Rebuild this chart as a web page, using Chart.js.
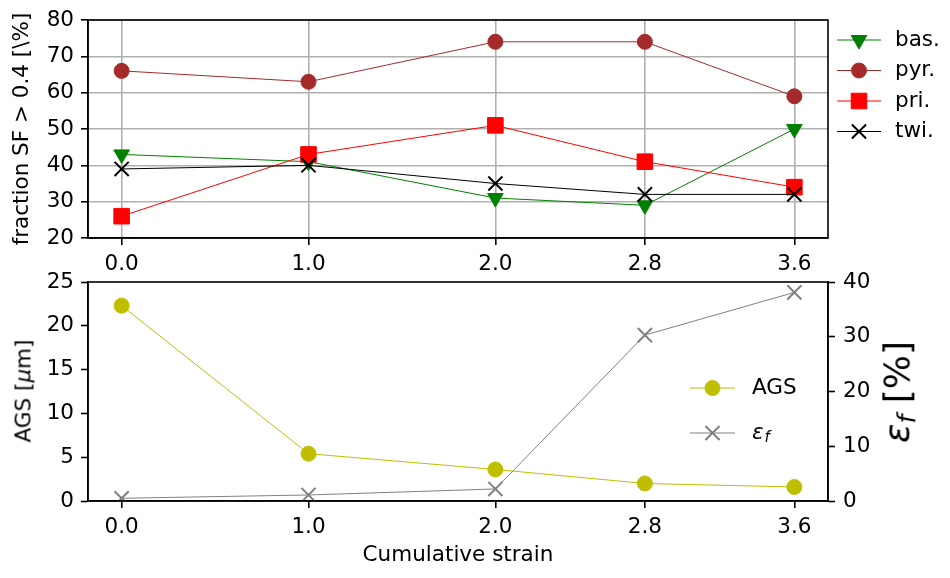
<!DOCTYPE html>
<html>
<head>
<meta charset="utf-8">
<script src="https://cdn.jsdelivr.net/npm/chart.js@4.4.1/dist/chart.umd.min.js"></script>
<style>
    html, body { margin: 0; padding: 0; background: #fff; }
    #wrap { position: relative; width: 950px; height: 578px; overflow: hidden; font-family: "DejaVu Sans"; }
    #topChart { position: absolute; left: 0; top: 0; }
    #botChart { position: absolute; left: 0; top: 260px; }
    .vlabel { position: absolute; white-space: nowrap; color: #000; transform: translate(-50%, -50%) rotate(-90deg); }
    #agsLabel { left: 23px; top: 391px; font-size: 21.5px; }
    #efLabel { left: 899px; top: 392px; font-size: 36px; }
    .vlabel i { font-style: italic; }
    .vlabel sub { font-size: 70%; vertical-align: -0.25em; }
</style>
</head>
<body>
<div id="wrap">
    <canvas id="topChart" width="950" height="290"></canvas>
    <canvas id="botChart" width="950" height="318"></canvas>
    <div class="vlabel" id="agsLabel">AGS [<i>μ</i>m]</div>
    <div class="vlabel" id="efLabel"><i>ε</i><sub><i>f</i></sub> [%]</div>
</div>
<script>
// data
const strain = [0.0, 1.0, 2.0, 2.8, 3.6];
const xTicks = [0.0, 1.0, 2.0, 2.8, 3.6];
const basal = [43, 41, 31, 29, 50];
const pyramidal = [66, 63, 74, 74, 59];
const prismatic = [26, 43, 51, 41, 34];
const twinning = [39, 40, 35, 32, 32];
const ags = [22.3, 5.4, 3.6, 2.0, 1.6];
const epsF = [0.5, 1.1, 2.2, 30.3, 38.1];

const FS = 21.5;
Chart.defaults.color = "#000";
Chart.defaults.font.family = "DejaVu Sans";
Chart.defaults.font.size = FS;

const toXY = (ys) => strain.map((x, i) => ({ x: x, y: ys[i] }));

// matplotlib style box around the axes
const framePlugin = {
    id: "frame",
    afterDatasetsDraw(chart) {
        const { ctx, chartArea: a } = chart;
        ctx.save();
        ctx.strokeStyle = "#000";
        ctx.lineWidth = 1.6;
        ctx.strokeRect(a.left, a.top, a.right - a.left, a.bottom - a.top);
        ctx.restore();
    },
};

// legend with line + marker handles
const lineLegendPlugin = {
    id: "lineLegend",
    afterDraw(chart, args, opts) {
        const ctx = chart.ctx;
        chart.data.datasets.forEach((ds, i) => {
            const y = opts.y + i * opts.rowHeight;
            ctx.save();
            ctx.strokeStyle = ds.borderColor;
            ctx.lineWidth = ds.borderWidth;
            ctx.beginPath();
            ctx.moveTo(opts.x, y);
            ctx.lineTo(opts.x + opts.handle, y);
            ctx.stroke();
            ctx.fillStyle = ds.pointBackgroundColor;
            ctx.strokeStyle = ds.pointBorderColor;
            ctx.lineWidth = ds.pointBorderWidth;
            Chart.helpers.drawPoint(ctx, {
                pointStyle: ds.pointStyle,
                radius: ds.pointRadius,
                rotation: ds.pointRotation || 0,
                borderWidth: ds.pointBorderWidth,
            }, opts.x + opts.handle / 2, y);
            ctx.fillStyle = "#000";
            ctx.textBaseline = "middle";
            ctx.textAlign = "left";
            const tx = opts.x + opts.handle + opts.gap;
            if (ds.label.indexOf("_") >= 0) {
                const parts = ds.label.split("_");
                ctx.font = "italic " + FS + "px 'DejaVu Sans'";
                ctx.fillText(parts[0], tx, y);
                const w = ctx.measureText(parts[0]).width;
                ctx.font = "italic " + (FS * 0.7) + "px 'DejaVu Sans'";
                ctx.fillText(parts[1], tx + w + 1, y + 5);
            } else {
                ctx.font = FS + "px 'DejaVu Sans'";
                ctx.fillText(ds.label, tx, y);
            }
            ctx.restore();
        });
    },
};

const xScale = (height, withTitle) => ({
    type: "linear",
    min: -0.18,
    max: 3.78,
    afterBuildTicks: (s) => { s.ticks = xTicks.map((v) => ({ value: v })); },
    afterFit: (s) => { s.height = height; },
    ticks: { callback: (v) => Number(v).toFixed(1), padding: 7, maxRotation: 0, autoSkip: false },
    grid: { display: true, drawOnChartArea: !withTitle, color: "#b0b0b0", lineWidth: 1.6, tickColor: "#000", tickLength: 7, tickWidth: 1.6 },
    border: { color: "#000", width: 1.6 },
    title: { display: withTitle, text: "Cumulative strain", padding: { top: 0, bottom: 10 } },
});

new Chart(document.getElementById("topChart"), {
    type: "line",
    data: {
        datasets: [
            {
                label: "bas.", data: toXY(basal), order: 3,
                borderColor: "#008000", borderWidth: 1,
                pointStyle: "triangle", pointRotation: 180, pointRadius: 9,
                pointBackgroundColor: "#008000", pointBorderColor: "#008000", pointBorderWidth: 1,
            },
            {
                label: "pyr.", data: toXY(pyramidal), order: 2,
                borderColor: "#a52a2a", borderWidth: 1,
                pointStyle: "circle", pointRadius: 7.5,
                pointBackgroundColor: "#a52a2a", pointBorderColor: "#a52a2a", pointBorderWidth: 1,
            },
            {
                label: "pri.", data: toXY(prismatic), order: 1,
                borderColor: "#ff0000", borderWidth: 1,
                pointStyle: "rect", pointRadius: 11,
                pointBackgroundColor: "#ff0000", pointBorderColor: "#ff0000", pointBorderWidth: 1,
            },
            {
                label: "twi.", data: toXY(twinning), order: 0,
                borderColor: "#000000", borderWidth: 1,
                pointStyle: "crossRot", pointRadius: 10,
                pointBackgroundColor: "#000000", pointBorderColor: "#000000", pointBorderWidth: 2,
            },
        ],
    },
    options: {
        responsive: false,
        animation: false,
        layout: { padding: { top: 20, right: 122, left: 0, bottom: 0 } },
        plugins: {
            legend: { display: false },
            tooltip: { enabled: false },
            lineLegend: { x: 837, y: 40, rowHeight: 30.5, handle: 44, gap: 14 },
        },
        scales: {
            x: xScale(52, false),
            y: {
                min: 20, max: 80,
                afterFit: (s) => { s.width = 88; },
                ticks: { stepSize: 10, padding: 7 },
                grid: { color: "#b0b0b0", lineWidth: 1.6, tickColor: "#000", tickLength: 7, tickWidth: 1.6 },
                border: { color: "#000", width: 1.6 },
                title: { display: true, text: "fraction SF > 0.4 [\\%]", padding: { top: 10, bottom: 0 } },
            },
        },
    },
    plugins: [framePlugin, lineLegendPlugin],
});

new Chart(document.getElementById("botChart"), {
    type: "line",
    data: {
        datasets: [
            {
                label: "AGS", data: toXY(ags), yAxisID: "y", order: 1,
                borderColor: "#bfbf00", borderWidth: 1,
                pointStyle: "circle", pointRadius: 7.5,
                pointBackgroundColor: "#bfbf00", pointBorderColor: "#bfbf00", pointBorderWidth: 1,
            },
            {
                label: "ε_f", data: toXY(epsF), yAxisID: "y1", order: 0,
                borderColor: "#808080", borderWidth: 1,
                pointStyle: "crossRot", pointRadius: 10,
                pointBackgroundColor: "#808080", pointBorderColor: "#808080", pointBorderWidth: 2,
            },
        ],
    },
    options: {
        responsive: false,
        animation: false,
        layout: { padding: { top: 22, right: 0, left: 0, bottom: 0 } },
        plugins: {
            legend: { display: false },
            tooltip: { enabled: false },
            lineLegend: { x: 690, y: 128, rowHeight: 45, handle: 45, gap: 17 },
        },
        scales: {
            x: xScale(77, true),
            y: {
                position: "left",
                min: 0, max: 25,
                afterFit: (s) => { s.width = 88; },
                ticks: { stepSize: 5, padding: 7 },
                grid: { drawOnChartArea: false, tickColor: "#000", tickLength: 7, tickWidth: 1.6 },
                border: { color: "#000", width: 1.6 },
            },
            y1: {
                position: "right",
                min: 0, max: 40,
                afterFit: (s) => { s.width = 122; },
                ticks: { stepSize: 10, padding: 8 },
                grid: { drawOnChartArea: false, tickColor: "#000", tickLength: 7, tickWidth: 1.6 },
                border: { color: "#000", width: 1.6 },
            },
        },
    },
    plugins: [framePlugin, lineLegendPlugin],
});
</script>
</body>
</html>
